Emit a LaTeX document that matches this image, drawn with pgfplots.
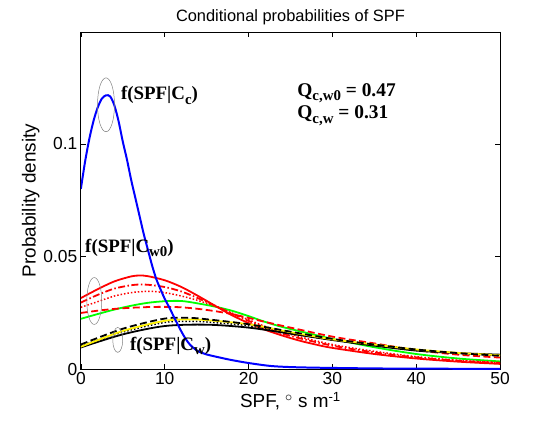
\documentclass[border=0pt]{standalone}
\usepackage{pgfplots}
\pgfplotsset{compat=1.18}
\usepackage{fontspec}
\setmainfont{Liberation Sans}
\newfontfamily\tnr{Liberation Serif}
\newcommand{\sub}[1]{\raisebox{-0.5ex}{\fontsize{15}{15}\selectfont #1}}
\begin{document}
\begin{tikzpicture}
\begin{axis}[
  scale only axis, width=420bp, height=338bp,
  xmin=0, xmax=50, ymin=0, ymax=0.1496,
  xtick={0,10,20,30,40,50}, xticklabels={0,10,20,30,40,50},
  ytick={0,0.05,0.1}, yticklabels={0,0.05,0.1},
  tick align=inside, major tick length=5bp,
  tick style={black, line width=0.6pt},
  axis line style={line width=0.8pt},
  ticklabel style={font=\fontsize{17.5}{19}\selectfont},
  title={Conditional probabilities of SPF},
  title style={font=\fontsize{16.5}{19}\selectfont, yshift=-2bp},
  xlabel={SPF, $^\circ$ s m\textsuperscript{-1}},
  ylabel={Probability density},
  label style={font=\fontsize{19}{21}\selectfont},
  xlabel style={yshift=0bp},
  ylabel style={yshift=-3bp},
  clip=true,
]
% green
\addplot[green, line width=1.8pt, smooth] coordinates {(0,0.0224)(2,0.0245)(4,0.0265)(6,0.0282)(8,0.0295)(10,0.0302)(12,0.0303)(14,0.0292)(16,0.0278)(18,0.026)(20,0.0236)(22,0.021)(24,0.0188)(26,0.017)(28,0.0152)(30,0.0135)(35,0.0098)(40,0.0068)(45,0.0048)(50,0.0035)};
% red solid
\addplot[red, line width=1.8pt, smooth] coordinates {(0,0.0316)(2,0.0355)(4,0.0390)(6,0.0412)(7,0.0416)(8,0.0413)(10,0.0395)(12,0.0365)(14,0.0325)(16,0.0282)(18,0.024)(20,0.0205)(22,0.0175)(24,0.015)(26,0.0128)(28,0.011)(30,0.0095)(35,0.0068)(40,0.0048)(45,0.0034)(50,0.0024)};
% red dash-dot
\addplot[red, line width=1.8pt, smooth, dash pattern=on 7pt off 2.5pt on 1.5pt off 2.5pt] coordinates {(0,0.0296)(2,0.033)(4,0.0358)(6,0.0373)(7,0.0376)(8,0.0375)(10,0.0365)(12,0.0345)(14,0.0315)(16,0.0282)(18,0.0248)(20,0.0215)(22,0.0185)(25,0.0148)(30,0.0105)(35,0.0075)(40,0.0053)(45,0.0038)(50,0.0028)};
% red dotted
\addplot[red, line width=1.5pt, smooth, dash pattern=on 1.5pt off 2pt] coordinates {(0,0.0275)(2,0.030)(4,0.0325)(6,0.034)(8,0.0346)(10,0.034)(12,0.0325)(14,0.0305)(16,0.028)(18,0.025)(20,0.022)(22,0.019)(25,0.0155)(30,0.011)(35,0.008)(40,0.0056)(45,0.004)(50,0.003)};
% red dashed
\addplot[red, line width=1.8pt, smooth, dash pattern=on 7pt off 3.5pt] coordinates {(0,0.025)(2,0.026)(4,0.0268)(6,0.0273)(8,0.0276)(10,0.0277)(12,0.0275)(14,0.0268)(16,0.0258)(18,0.0245)(20,0.0228)(22,0.021)(25,0.0185)(30,0.0145)(35,0.0115)(40,0.0085)(45,0.0065)(50,0.0052)};
% black solid
\addplot[black, line width=1.8pt, smooth] coordinates {(0,0.0097)(5,0.0155)(10,0.0192)(15,0.0198)(20,0.0185)(25,0.0158)(30,0.013)(35,0.0105)(40,0.0083)(45,0.0072)(50,0.0065)};
% black dotted
\addplot[black, line width=1.5pt, smooth, dash pattern=on 1.5pt off 2pt] coordinates {(0,0.0104)(5,0.0165)(10,0.0208)(13,0.0213)(15,0.0210)(20,0.0193)(25,0.016)(30,0.013)(35,0.0107)(40,0.0086)(45,0.0071)(50,0.0061)};
% yellow
\addplot[yellow, line width=1.8pt, smooth] coordinates {(0,0.0100)(5,0.0170)(10,0.0215)(13,0.0221)(15,0.0218)(20,0.0200)(25,0.0165)(30,0.0133)(35,0.011)(40,0.0088)(45,0.0073)(50,0.0062)};
% black dashed
\addplot[black, line width=1.8pt, smooth, dash pattern=on 7pt off 3.5pt] coordinates {(0,0.011)(5,0.018)(10,0.0225)(13,0.0228)(15,0.0222)(20,0.02)(25,0.0167)(30,0.0135)(35,0.011)(40,0.0088)(45,0.0072)(50,0.006)};
% blue
\addplot[blue, line width=2pt, smooth] coordinates {(0,0.080)(0.5,0.092)(1,0.102)(1.5,0.110)(2,0.116)(2.5,0.120)(3,0.1215)(3.5,0.121)(4,0.117)(4.5,0.110)(5,0.101)(5.5,0.093)(6,0.084)(6.5,0.076)(7,0.068)(7.5,0.060)(8,0.053)(8.5,0.046)(9,0.040)(9.5,0.0355)(10,0.0313)(10.5,0.0278)(11,0.0240)(11.5,0.0203)(12,0.0167)(12.5,0.0135)(13,0.0110)(13.5,0.0093)(14,0.0080)(15,0.0066)(16.6,0.0052)(18,0.0041)(20,0.0028)(22.6,0.0015)(25,0.001)(28.5,0.0007)(35,0.0004)(40,0.0003)(50,0.0002)};
% ellipses
\draw[gray, line width=0.5pt] (axis cs:3.0,0.1173) ellipse [x radius=8.5bp, y radius=27bp];
\draw[gray, line width=0.5pt] (axis cs:1.6,0.0303) ellipse [x radius=7.5bp, y radius=23.5bp];
\draw[gray, line width=0.5pt] (axis cs:4.4,0.01305) ellipse [x radius=5bp, y radius=12.5bp];
% annotations
\node[anchor=base west, inner sep=0pt, font=\tnr\bfseries\fontsize{19}{20}\selectfont] at (axis cs:4.77,0.1195) {f(SPF|C\sub{c})};
\node[anchor=base west, inner sep=0pt, font=\tnr\bfseries\fontsize{19}{20}\selectfont] at (axis cs:0.5,0.0518) {f(SPF|C\sub{w0})};
\node[anchor=base west, inner sep=0pt, font=\tnr\bfseries\fontsize{19}{20}\selectfont] at (axis cs:5.85,0.0084) {f(SPF|C\sub{w})};
\node[anchor=base west, inner sep=0pt, font=\tnr\bfseries\fontsize{19.5}{20}\selectfont] at (axis cs:25.8,0.121) {Q\sub{c,w0} = 0.47};
\node[anchor=base west, inner sep=0pt, font=\tnr\bfseries\fontsize{19.5}{20}\selectfont] at (axis cs:25.8,0.111) {Q\sub{c,w} = 0.31};
\end{axis}
\pgfresetboundingbox
\path (current axis.south west) ++(-81bp,-55bp) coordinate (bl);
\path (current axis.north east) ++(43bp,32bp) coordinate (tr);
\useasboundingbox (bl) rectangle (tr);
\end{tikzpicture}
\end{document}
